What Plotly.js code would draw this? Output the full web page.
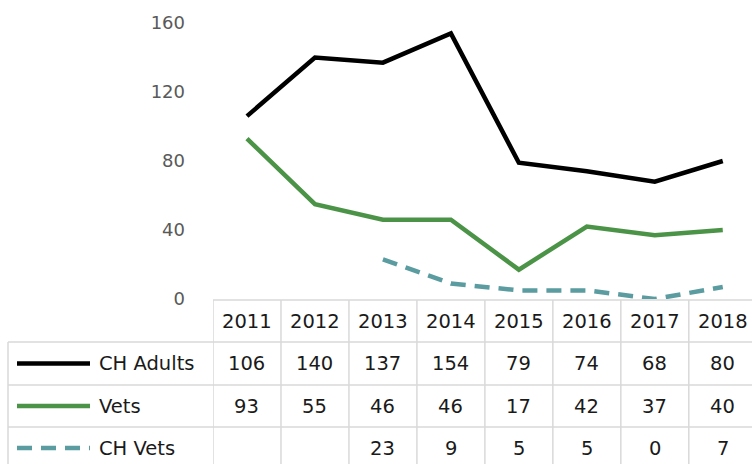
<!DOCTYPE html>
<html>
<head>
<meta charset="utf-8">
<script src="https://cdn.plot.ly/plotly-3.0.1.min.js"></script>
<style>html,body{margin:0;padding:0;background:#fff;}#chart{width:752px;height:464px;}</style>
</head>
<body>
<div id="chart"></div>
<script>
var years = ['2011','2012','2013','2014','2015','2016','2017','2018'];
var seriesNames = ['CH Adults','Vets','CH Vets'];
var chAdults = [106,140,137,154,79,74,68,80];
var vets = [93,55,46,46,17,42,37,40];
var chVets = [null,null,23,9,5,5,0,7];
var yTicks = [0,40,80,120,160];

var colors = ['#000000','#4b9447','#5a9ca0'];
var dashes = ['solid','solid','15px,9px'];
var allSeries = [chAdults, vets, chVets];

var W = 752, H = 464, T = 23, B = 299, L = 213;
var ph = B - T;
function py(p){ return (B - p) / ph; }          // pixel y -> paper y
function px(p){ return (p - L) / (W - L); }      // pixel x -> paper x

var traces = allSeries.map(function(s,i){
  return {x: years, y: s, type:'scatter', mode:'lines', name: seriesNames[i],
    line:{color: colors[i], width: 4.5, dash: dashes[i]}, connectgaps:false, hoverinfo:'skip'};
});

var gridC = '#d9d9d9';
var shapes = [];
var rowTops = [300, 342, 385, 427, 472];
var rowCenters = [321, 363.5, 406, 448];
shapes.push({type:'line', xref:'paper', yref:'paper', x0:0, x1:1.02, y0:py(rowTops[0]), y1:py(rowTops[0]), line:{color:gridC, width:1.5}});
for (var r=1;r<4;r++){
  shapes.push({type:'line', xref:'paper', yref:'paper', x0:px(8), x1:1.02, y0:py(rowTops[r]), y1:py(rowTops[r]), line:{color:gridC, width:1.5}});
}
for (var k=0;k<years.length;k++){
  shapes.push({type:'line', xref:'x', yref:'paper', x0:k-0.5, x1:k-0.5, y0:py(rowTops[0]), y1:py(rowTops[4]), line:{color:gridC, width:1.5}});
}
shapes.push({type:'line', xref:'paper', yref:'paper', x0:px(8), x1:px(8), y0:py(rowTops[1]), y1:py(rowTops[4]), line:{color:gridC, width:1.5}});
for (var i=0;i<3;i++){
  shapes.push({type:'line', xref:'paper', yref:'paper', x0:px(17), x1:px(90), y0:py(rowCenters[i+1]), y1:py(rowCenters[i+1]),
    line:{color: colors[i], width: 4.5, dash: dashes[i]}});
}

var tfont = {family:'DejaVu Sans', size:19.5, color:'#1a1a1a'};
var annotations = [];
years.forEach(function(y,k){
  annotations.push({xref:'x', yref:'paper', x:k, y:py(rowCenters[0]), text:y, showarrow:false, xanchor:'center', yanchor:'middle', font:tfont});
  allSeries.forEach(function(s,i){
    if (s[k] !== null) annotations.push({xref:'x', yref:'paper', x:k, y:py(rowCenters[i+1]), text:String(s[k]), showarrow:false, xanchor:'center', yanchor:'middle', font:tfont});
  });
});
seriesNames.forEach(function(n,i){
  annotations.push({xref:'paper', yref:'paper', x:px(97), y:py(rowCenters[i+1]), text:n, showarrow:false, xanchor:'left', yanchor:'middle', font:tfont});
});

var layout = {
  width: W, height: H,
  margin: {l: L, r: 0, t: T, b: H - B, pad: 0},
  paper_bgcolor:'#ffffff', plot_bgcolor:'#ffffff',
  showlegend:false,
  xaxis:{type:'category', range:[-0.5, 7.43], showticklabels:false, showgrid:false, zeroline:false, showline:false, ticks:'', fixedrange:true},
  yaxis:{range:[0,160], tickvals:yTicks, ticktext:yTicks.map(String), showgrid:false, zeroline:false, showline:false, ticks:'',
    ticklabelstandoff: 27, tickfont:{family:'DejaVu Sans', size:18, color:'#595959'}, fixedrange:true},
  shapes: shapes,
  annotations: annotations
};

Plotly.newPlot('chart', traces, layout, {displayModeBar:false, staticPlot:true});
</script>
</body>
</html>
